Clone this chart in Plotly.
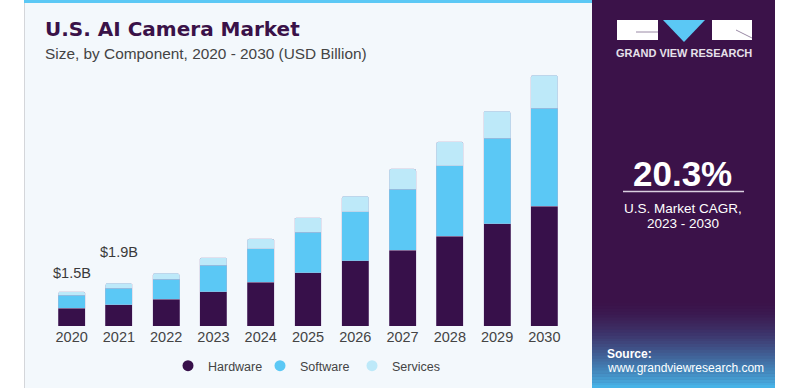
import plotly.graph_objects as go

years = ["2020", "2021", "2022", "2023", "2024", "2025", "2026", "2027", "2028", "2029", "2030"]
hardware = [0.79, 0.93, 1.18, 1.51, 1.94, 2.35, 2.87, 3.35, 3.96, 4.51, 5.29]
software = [0.57, 0.74, 0.88, 1.16, 1.46, 1.78, 2.17, 2.68, 3.11, 3.77, 4.31]
services = [0.15, 0.22, 0.26, 0.35, 0.44, 0.64, 0.69, 0.90, 1.06, 1.20, 1.47]
label_years = ["2020", "2021"]
label_texts = ["$1.5B", "$1.9B"]
label_shifts = [9, 21]

C_HW = "#37104a"
C_SW = "#5bc8f5"
C_SV = "#bde9f9"
PURPLE = "#3b1249"
FONT = "Liberation Sans, Arial, sans-serif"

W, H = 790, 388
ML, MR, MT, MB = 48, 222, 70, 62
PW = W - ML - MR
PH = H - MT - MB


def px(x):
    return (x - ML) / PW


def py(y):
    return (H - MB - y) / PH


fig = go.Figure()
for name, vals, col in [("Hardware", hardware, C_HW), ("Software", software, C_SW), ("Services", services, C_SV)]:
    fig.add_trace(go.Bar(x=years, y=vals, name=name, marker_color=col,
                         marker_line=dict(color="rgba(190,175,205,0.55)", width=0.6),
                         showlegend=False, hoverinfo="skip"))
for name, col in [("Hardware", C_HW), ("Software", C_SW), ("Services", C_SV)]:
    fig.add_trace(go.Scatter(x=[None], y=[None], mode="markers", name=name,
                             marker=dict(color=col, size=11, symbol="circle"), showlegend=True))

totals = [h + s + v for h, s, v in zip(hardware, software, services)]
for yr, txt, sh in zip(label_years, label_texts, label_shifts):
    i = years.index(yr)
    fig.add_annotation(xref="x", yref="y", x=i, y=totals[i], text=txt, showarrow=False,
                       yanchor="bottom", yshift=sh,
                       font=dict(family=FONT, size=14.5, color="#3a3a3a"))

shapes = []
# light panel
shapes.append(dict(type="rect", xref="paper", yref="paper", x0=px(24), x1=px(592), y0=py(388), y1=py(0),
                   fillcolor="#f3f8fc", line=dict(width=0), layer="below"))
shapes.append(dict(type="line", xref="paper", yref="paper", x0=px(24.5), x1=px(24.5), y0=py(388), y1=py(0),
                   line=dict(color="#d4d6da", width=1), layer="below"))
shapes.append(dict(type="rect", xref="paper", yref="paper", x0=px(24), x1=px(592), y0=py(3), y1=py(0),
                   fillcolor="#5bc8f5", line=dict(width=0), layer="below"))
# purple panel
shapes.append(dict(type="rect", xref="paper", yref="paper", x0=px(592), x1=px(775), y0=py(388), y1=py(0),
                   fillcolor=PURPLE, line=dict(width=0), layer="below"))
# gradient at bottom
g0, g1 = 300, 388
n = 30
c0 = (0x3b, 0x12, 0x49)
c1 = (0x48, 0xb8, 0xec)
for k in range(n):
    t = (k + 0.5) / n
    t2 = t ** 1.6
    c = tuple(int(c0[j] + (c1[j] - c0[j]) * t2) for j in range(3))
    ya = g0 + (g1 - g0) * k / n
    yb = g0 + (g1 - g0) * (k + 1) / n + 0.5
    shapes.append(dict(type="rect", xref="paper", yref="paper", x0=px(592), x1=px(775), y0=py(yb), y1=py(ya),
                       fillcolor="rgb(%d,%d,%d)" % c, line=dict(width=0), layer="below"))
# logo
shapes.append(dict(type="rect", xref="paper", yref="paper", x0=px(617), x1=px(658), y0=py(40), y1=py(20),
                   fillcolor="white", line=dict(width=0)))
shapes.append(dict(type="path", xref="paper", yref="paper",
                   path="M %f,%f L %f,%f L %f,%f Z" % (px(663), py(20), px(705), py(20), px(684), py(42)),
                   fillcolor="#5bc8f5", line=dict(width=0)))
shapes.append(dict(type="rect", xref="paper", yref="paper", x0=px(712), x1=px(752), y0=py(40), y1=py(20),
                   fillcolor="white", line=dict(width=0)))
shapes.append(dict(type="line", xref="paper", yref="paper", x0=px(636), x1=px(658), y0=py(32), y1=py(32),
                   line=dict(color="#9a8aa6", width=1)))
shapes.append(dict(type="line", xref="paper", yref="paper", x0=px(736), x1=px(752), y0=py(30), y1=py(38),
                   line=dict(color="#9a8aa6", width=1)))
# CAGR divider
shapes.append(dict(type="line", xref="paper", yref="paper", x0=px(623), x1=px(744), y0=py(191.5), y1=py(191.5),
                   line=dict(color="#d9d0e0", width=1.5)))

texts = [
    ("U.S. AI Camera Market", 43, 29, 20, "#3a1248", "left", "DejaVu Sans, Liberation Sans", 700),
    ("Size, by Component, 2020 - 2030 (USD Billion)", 43, 53, 15.4, "#444444", "left", FONT, 400),
    ("GRAND VIEW RESEARCH", 684, 53, 11, "#e6e0ea", "center", FONT, 700),
    ("20.3%", 682, 173, 35, "white", "center", FONT, 700),
    ("U.S. Market CAGR,", 683, 208, 13.5, "white", "center", FONT, 400),
    ("2023 - 2030", 683, 223, 13.5, "white", "center", FONT, 400),
    ("Source:", 605, 354, 12, "white", "left", FONT, 700),
    ("www.grandviewresearch.com", 605, 368, 12, "white", "left", FONT, 400),
]
for txt, x, y, sz, col, al, fam, wt in texts:
    fig.add_annotation(xref="paper", yref="paper", x=px(x), y=py(y), text=txt, showarrow=False,
                       xanchor=al, yanchor="middle", font=dict(family=fam, size=sz, color=col, weight=wt))

fig.update_layout(
    width=W, height=H, margin=dict(l=ML, r=MR, t=MT, b=MB, autoexpand=False),
    barmode="stack", bargap=0.43, barcornerradius=2,
    paper_bgcolor="white", plot_bgcolor="rgba(0,0,0,0)",
    shapes=shapes,
    font=dict(family=FONT, color="#444444"),
    xaxis=dict(type="category", range=[-0.5, 10.5], showgrid=False, zeroline=False, showline=False,
               ticks="", tickfont=dict(size=14.5, color="#444444")),
    yaxis=dict(range=[0, 256 * 1.5 / 34], visible=False, showgrid=False, zeroline=False),
    legend=dict(orientation="h", x=px(168), y=py(366), xanchor="left", yanchor="middle",
                traceorder="normal", entrywidth=47, entrywidthmode="pixels",
                font=dict(size=12.5, color="#444444"), bgcolor="rgba(0,0,0,0)",
                itemclick=False, itemdoubleclick=False),
    showlegend=True,
)

fig.write_html("out.html", config={"displayModeBar": False},
               post_script="document.body.style.margin='0';document.body.style.overflow='hidden';")
